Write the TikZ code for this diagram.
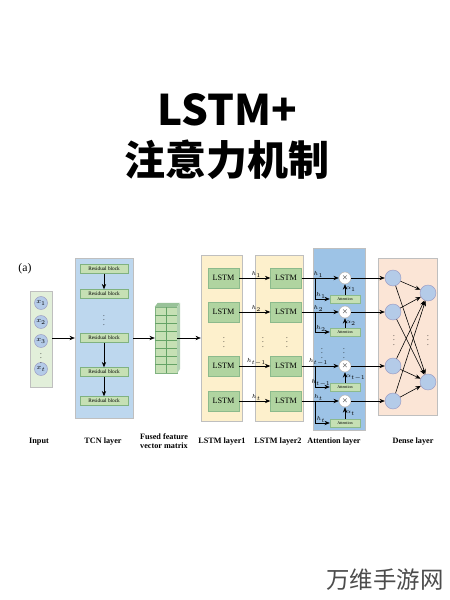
\documentclass[tikz,border=0pt]{standalone}
\usepackage{fontspec}
\setmainfont{Liberation Serif}
\newfontfamily\cjk{Noto Sans CJK SC}
\usetikzlibrary{arrows.meta, positioning, calc}
\definecolor{inputgreen}{RGB}{226, 239, 218}
\definecolor{tcnblue}{RGB}{189, 215, 238}
\definecolor{blockgreen}{RGB}{198, 224, 180}
\definecolor{lstmgreen}{RGB}{176, 212, 160}
\definecolor{lstmyellow}{RGB}{253, 240, 204}
\definecolor{attnblue}{RGB}{157, 195, 230}
\definecolor{densepeach}{RGB}{251, 229, 214}
\definecolor{neuronblue}{RGB}{180, 203, 232}

\begin{document}
\begin{tikzpicture}[
    x=0.03cm, y=-0.03cm,
    panel/.style={draw=black!25, line width=0.3pt, inner sep=0pt},
    resblock/.style={draw=green!40!black!50, fill=blockgreen, minimum width=1.44cm, minimum height=0.27cm, inner sep=0pt, font=\fontsize{4.5}{5}\selectfont},
    lstm/.style={draw=green!40!black!45, fill=lstmgreen, minimum width=0.93cm, minimum height=0.6cm, inner sep=0pt, font=\fontsize{7}{8}\selectfont},
    attn/.style={draw=green!40!black!45, fill=blockgreen, minimum width=0.9cm, minimum height=0.24cm, inner sep=0pt, font=\fontsize{3.5}{4}\selectfont},
    neuron/.style={circle, draw=blue!40!black!40, fill=neuronblue, minimum size=#1, inner sep=0pt},
    mult/.style={circle, draw=black!30, fill=white, minimum size=0.36cm, inner sep=0pt, font=\fontsize{6}{6}\selectfont},
    vdots/.style={font=\fontsize{6}{6}\selectfont},
    hlabel/.style={font=\fontsize{5}{5}\selectfont, inner sep=0.5pt},
    caption/.style={font=\bfseries\fontsize{7}{8}\selectfont, align=center},
    arrow/.style={-{Stealth[length=1.6mm, width=1.3mm]}, line width=0.5pt}
]
\useasboundingbox (0,0) rectangle (449,600);

% title
\node[font=\cjk\bfseries\fontsize{36}{40}\selectfont] (title) at (227,110) {LSTM+};
\node[font=\cjk\bfseries\fontsize{35}{40}\selectfont] (subtitle) at (227,160) {注意力机制};
\node[font=\fontsize{10}{12}\selectfont] (tag) at (25,269) {(a)};

% panels
\node[panel, fill=inputgreen, minimum width=0.66cm, minimum height=2.88cm] (inputpanel) at (41,339) {};
\node[panel, fill=tcnblue, minimum width=1.74cm, minimum height=4.8cm] (tcnpanel) at (104,338) {};
\node[panel, fill=lstmyellow, minimum width=1.23cm, minimum height=4.98cm] (l1panel) at (221.5,338) {};
\node[panel, fill=lstmyellow, minimum width=1.44cm, minimum height=4.98cm] (l2panel) at (279,338) {};
\node[panel, fill=attnblue, minimum width=1.56cm, minimum height=5.46cm] (attnpanel) at (339,339) {};
\node[panel, fill=densepeach, minimum width=1.77cm, minimum height=4.71cm] (densepanel) at (407.5,336.5) {};

% input
\foreach \i/\y/\lab in {1/303/x_1, 2/322/x_2, 3/341/x_3, 4/369/x_t}
  \node[neuron=0.39cm, font=\fontsize{6}{6}\selectfont] (x\i) at (41,\y) {$\lab$};
\node[vdots] (xdots) at (41,355) {$\vdots$};

% TCN layer
\foreach \i/\y in {1/269, 2/294, 3/338, 4/372, 5/401}
  \node[resblock] (res\i) at (104,\y) {Residual block};
\node[vdots] (resdots) at (104,317) {$\vdots$};
\draw[arrow] (res1) -- (res2);
\draw[arrow] (res3) -- (res4);
\draw[arrow] (res4) -- (res5);

% fused feature vector matrix
\node[draw=green!40!black!50, fill=blockgreen, minimum width=0.66cm, minimum height=1.98cm, inner sep=0pt] (fused) at (166,340) {};
\fill[green!40!black!40] (fused.north west) -- ++(3,-4) -- ++(22,0) -- (fused.north east) -- cycle;
\fill[green!40!black!30] (fused.north east) -- ++(3,-4) -- ++(0,66) -- (fused.south east) -- cycle;
\draw[green!40!black!60, line width=0.3pt] (fused.north) -- (fused.south);
\foreach \k in {1,...,7}
  \draw[green!40!black!60, line width=0.3pt] ($(fused.north west)+(0,\k*8.25)$) -- ($(fused.north east)+(0,\k*8.25)$);

\draw[arrow] (inputpanel.east |- res3) -- (tcnpanel.west |- res3);
\draw[arrow] (tcnpanel.east |- res3) -- (fused.west |- res3);
\draw[arrow] (fused.east |- res3) -- (l1panel.west |- res3);

% LSTM layers, attention and dense input
\foreach \i/\y/\ay/\lab in {1/278/299/1, 2/312/332/2, 3/366/387/{t-1}, 4/401/423/t} {
  \node[lstm] (la\i) at (223.5,\y) {LSTM};
  \node[lstm] (lb\i) at (286,\y) {LSTM};
  \node[mult] (mul\i) at (345,\y) {$\times$};
  \node[attn] (att\i) at (345,\ay) {Attention};
  \node[neuron=0.48cm] (din\i) at (393,\y) {};
  \coordinate (br\i) at (315,\y);
  \draw[arrow] (la\i) -- (lb\i) node[hlabel, pos=0.55, above] {$h_{\lab}$};
  \draw[arrow] (lb\i) -- (mul\i) node[hlabel, pos=0.45, above] {$h_{\lab}$};
  \draw[arrow] (br\i) |- (att\i) node[hlabel, pos=0.7, above] {$h_{\lab}$};
  \draw[arrow] (att\i) -- (mul\i) node[hlabel, midway, right] {$\alpha_{\lab}$};
  \draw[arrow] (mul\i) -- (din\i);
}
\node[vdots] (ladots) at (224,339) {$\vdots$};
\node[vdots] (lbdots1) at (263,339) {$\vdots$};
\node[vdots] (lbdots2) at (287,339) {$\vdots$};
\node[vdots] (atdots1) at (322,350) {$\vdots$};
\node[vdots] (atdots2) at (344,350) {$\vdots$};

% dense layer
\node[neuron=0.48cm] (dout1) at (428,293) {};
\node[neuron=0.48cm] (dout2) at (428,382) {};
\node[vdots] (dindots) at (394,337) {$\vdots$};
\node[vdots] (doutdots) at (428,337) {$\vdots$};
\foreach \i in {1,...,4}
  \foreach \j in {1,2}
    \draw[arrow] (din\i) -- (dout\j);

% captions
\node[caption] (capin) at (39,442) {Input};
\node[caption] (captcn) at (103,442) {TCN layer};
\node[caption, font=\bfseries\fontsize{7}{8}\selectfont] (capfused) at (164,441) {Fused feature\\vector matrix};
\node[caption] (capl1) at (222,442) {LSTM layer1};
\node[caption] (capl2) at (278,442) {LSTM layer2};
\node[caption] (capattn) at (334,442) {Attention layer};
\node[caption] (capdense) at (413,442) {Dense layer};

% watermark
\node[font=\cjk\fontsize{20}{24}\selectfont, text=black!70] (mark) at (385,580) {万维手游网};

\end{tikzpicture}
\end{document}
